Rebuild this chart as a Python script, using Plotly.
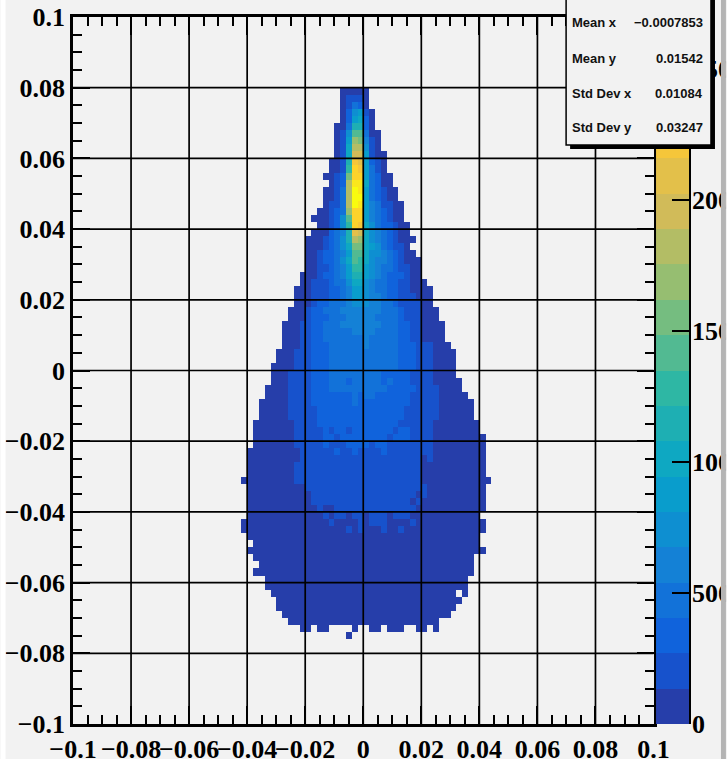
import plotly.graph_objects as go

WIDTH, HEIGHT = 727, 759
M_L, M_R, M_T, M_B = 72.5, 38, 17, 35

# Band index per cell: 0-9 then a-j (base 20), '.' = empty cell.
# Rows run downward from y = 0.08, each 0.002 tall. First entry of ROW_FIRST_COL is the
# bin index (distance from x = 0 in 0.002 steps) of the row's first cell.
ROW_FIRST_COL = [-4, -4, -4, -4, -4, -5, -5, -5, -5, -5, -6, -6, -7, -6, -7, -7, -7, -8, -9, -8,
                 -9, -10, -10, -10, -10, -10, -11, -11, -12, -12, -12, -13, -13, -14, -14, -14, -14, -15, -15, -16,
                 -16, -16, -17, -17, -18, -18, -18, -19, -19, -19, -19, -20, -20, -20, -20, -21, -20, -20, -20, -20,
                 -20, -21, -21, -20, -19, -20, -19, -18, -19, -17, -17, -16, -15, -15, -14, -13, -11, -3]
ROW_BANDS = [
    "00000",
    "01110",
    "01320",
    "025610",
    "026720",
    "0038820",
    "015aa300",
    "016cb410",
    "017dd510",
    "017ee6100",
    "0018gf6210",
    "0019hg6310",
    "0012bhh63200",
    "012dii73200",
    "0013dji632100",
    "0013djj632100",
    "0113dji6431100",
    "00123chh6432100",
    "000125ahh6432100",
    "001259hg75322100",
    "0002348fe75432100",
    "00012358dc754321000",
    "00012357bb76532110",
    "00122346aa755432100",
    "00122357a97544321000",
    "00112346996543321100",
    "000122346886543222100",
    "0011123357754332211000",
    "000111223466543322110000",
    "000111223466544322111000",
    "000122333455544332111100",
    "00012233344444443332111000",
    "00012223334444433332111000",
    "0001122333444444433322110000",
    "0001122333334444333322110000",
    "0001122333333343333322110000",
    "00011222333333433333222111000",
    "0001112223333333333332221110000",
    "0001112223333333333332221110000",
    "00001112223333333333332221110000",
    "000111122233333333322222" "11110000",
    "0001111222333233" "33323222111100000",
    "00001111222333333" "33332222211110000",
    "00001111222222232" "332222221111100000",
    "000001111222222232" "2222222211111000000",
    "000001111122222222" "2222222111111000000",
    "000001111122222222" "2222222111111000000",
    "0000000111122222222" "22222211111100000000",
    "0000000111112122122" "22222122111100000000",
    "0000000111112212222" "222212221111000000000",
    "0000000111112111222" "21221111111100000000" "0",
    "00000000011111121121" "111211111111000000000",
    "00000000011111111111" "111111111101000000000",
    "00000000111111111111" "111111111100000000000",
    "00000000111111111111" "111111111100000000000",
    "000000000111111111111" "1111111111000000000000",
    "00000000001111111111" "111111111110000000000",
    "00000000000111111111" "111111111010000000000",
    "00000000000111111111" "111111110100000000000",
    "00000000000010011111" "111111111000000000000",
    "00000000000001011011" "01110111000000000000",
    "000000000000000100001" "011100001000000000000",
    "000000000000000000101" "000100100000000000000",
    "0000000000000000000000000000000000000000",
    "000000000000000000000000000000000000000",
    "00000000000000000000000000000000000000000",
    "00000000000000000000000000000000000000",
    "0000000000000000000000000000000000000",
    "00000000000000000000000000000000000000",
    "00000000000000000000000000000000000",
    "00000000000000000000000000000000000",
    "00000000000000000000000000000000.0",
    "00000000000000000000000000000000",
    "0000000000000000000000000000000",
    "00000000000000000000000000000",
    "00000000000000000000000000",
    "00.00....0..00.000..00.0",
    "0",
]

BAND_WIDTH = 135
BIRD_STOPS = [(0.2082, 0.1664, 0.5293), (0.0592, 0.3599, 0.8684), (0.0780, 0.5041, 0.8385),
              (0.0232, 0.6419, 0.7914), (0.1802, 0.7178, 0.6425), (0.5301, 0.7492, 0.4662),
              (0.8186, 0.7328, 0.3499), (0.9956, 0.7862, 0.1968), (0.9764, 0.9832, 0.0539)]

X_TICKS = [-0.1, -0.08, -0.06, -0.04, -0.02, 0, 0.02, 0.04, 0.06, 0.08, 0.1]
TICK_TEXT = ["\u22120.1", "\u22120.08", "\u22120.06", "\u22120.04", "\u22120.02", "0",
             "0.02", "0.04", "0.06", "0.08", "0.1"]
Z_TICKS = [0, 500, 1000, 1500, 2000, 2500]
STAT_NAMES = ["Mean x", "Mean y", "Std Dev x", "Std Dev y"]
STAT_VALUES = ["\u22120.0007853", "0.01542", "0.01084", "0.03247"]

BG = "#f2f2f2"


def bird(pos):
    f = pos * (len(BIRD_STOPS) - 1)
    i = min(int(f), len(BIRD_STOPS) - 2)
    t = f - i
    c = [BIRD_STOPS[i][n] * (1 - t) + BIRD_STOPS[i + 1][n] * t for n in range(3)]
    return "rgb(%d,%d,%d)" % tuple(round(v * 255) for v in c)


N_BANDS = 20
colorscale = []
for b in range(N_BANDS):
    col = bird((b + 1) / N_BANDS)
    colorscale += [[b / N_BANDS, col], [(b + 1) / N_BANDS, col]]
z_max = N_BANDS * BAND_WIDTH

centers = [round(-0.099 + 0.002 * i, 4) for i in range(100)]
z = [[None] * 100 for _ in range(100)]
for r, (first, row) in enumerate(zip(ROW_FIRST_COL, ROW_BANDS)):
    for c, ch in enumerate(row):
        if ch != ".":
            z[89 - r][50 + first + c] = (int(ch, 20) + 0.5) * BAND_WIDTH

plot_w = WIDTH - M_L - M_R
plot_h = HEIGHT - M_T - M_B


def px(x):
    return (x - M_L) / plot_w


def py(y):
    return 1 - (y - M_T) / plot_h


fig = go.Figure()
fig.add_trace(go.Heatmap(x=centers, y=centers, z=z, zmin=0, zmax=z_max, colorscale=colorscale,
                         showscale=False, hoverongaps=False))
bar_y = [(b + 0.5) * BAND_WIDTH for b in range(N_BANDS)]
fig.add_trace(go.Heatmap(x=[0], y=bar_y, z=[[v] for v in bar_y], zmin=0, zmax=z_max,
                         colorscale=colorscale, showscale=False, xaxis="x2", yaxis="y2"))

tick_font = dict(family="Liberation Serif", size=26, color="black", weight="bold")
main_axis = dict(range=[-0.1, 0.1], tickmode="array", tickvals=X_TICKS, ticktext=TICK_TEXT,
                 ticks="inside", tickcolor="black", tickwidth=1.7, showgrid=False, zeroline=False,
                 showline=True, linecolor="black", linewidth=2.5, mirror="allticks",
                 layer="above traces", tickfont=tick_font, tickangle=0,
                 minor=dict(tick0=-0.1, dtick=0.005, ticks="inside", ticklen=9, tickwidth=1.5,
                            tickcolor="black", showgrid=False))

shapes = []
for v in X_TICKS[1:-1]:
    grid = dict(type="line", layer="above", line=dict(color="black", width=1.7))
    shapes.append(dict(grid, xref="x", yref="paper", x0=v, x1=v, y0=0, y1=1))
    shapes.append(dict(grid, xref="paper", yref="y", x0=0, x1=px(653.5), y0=v, y1=v))
# page edges
shapes.append(dict(type="rect", xref="paper", yref="paper", x0=px(0), x1=px(5), y0=py(HEIGHT), y1=py(0),
                   fillcolor="white", line_width=0))
shapes.append(dict(type="rect", xref="paper", yref="paper", x0=px(721), x1=px(726), y0=py(HEIGHT), y1=py(0),
                   fillcolor="#b4b4b4", line_width=0))
shapes.append(dict(type="rect", xref="paper", yref="paper", x0=px(726), x1=px(WIDTH), y0=py(HEIGHT), y1=py(0),
                   fillcolor=BG, line_width=0))
# stats box with its shadow
shapes.append(dict(type="rect", xref="paper", yref="paper", x0=px(570), x1=px(715), y0=py(149), y1=py(-10),
                   fillcolor="black", line_width=0))
shapes.append(dict(type="rect", xref="paper", yref="paper", x0=px(566), x1=px(711), y0=py(145), y1=py(-10),
                   fillcolor=BG, line=dict(color="black", width=1.5)))

stat_y = [22, 58, 93, 127]
annotations = []
stat_font = dict(family="Liberation Sans", size=13, color="#111111")
for name, value, y in zip(STAT_NAMES, STAT_VALUES, stat_y):
    annotations.append(dict(xref="paper", yref="paper", x=px(572), y=py(y), text="<b>%s</b>" % name,
                            showarrow=False, xanchor="left", yanchor="middle", font=stat_font,
                            borderpad=0, borderwidth=0))
    annotations.append(dict(xref="paper", yref="paper", x=px(703), y=py(y), text="<b>%s</b>" % value,
                            showarrow=False, xanchor="right", yanchor="middle", font=stat_font,
                            borderpad=0, borderwidth=0))

fig.update_layout(
    width=WIDTH, height=HEIGHT, autosize=False,
    margin=dict(l=M_L, r=M_R, t=M_T, b=M_B, pad=0, autoexpand=False),
    paper_bgcolor=BG, plot_bgcolor=BG, showlegend=False,
    font=dict(family="Liberation Serif"),
    xaxis=dict(main_axis, domain=[0, px(653.5)], anchor="y", ticklen=18),
    yaxis=dict(main_axis, domain=[0, 1], anchor="x", ticklen=17),
    xaxis2=dict(domain=[px(656), 1], anchor="y2", visible=False, range=[-0.5, 0.5]),
    yaxis2=dict(domain=[0, 1], anchor="x2", side="right", range=[0, z_max], tickvals=Z_TICKS,
                ticks="inside", ticklen=17, tickwidth=1.7, tickcolor="black", showgrid=False,
                zeroline=False, showline=True, linecolor="black", linewidth=1.5,
                layer="above traces", tickfont=tick_font, ticklabelstandoff=-4),
    shapes=shapes, annotations=annotations,
)
fig.write_html("out.html", config={"displayModeBar": False},
               post_script="document.body.style.margin='0';document.documentElement.style.overflow='hidden';")
